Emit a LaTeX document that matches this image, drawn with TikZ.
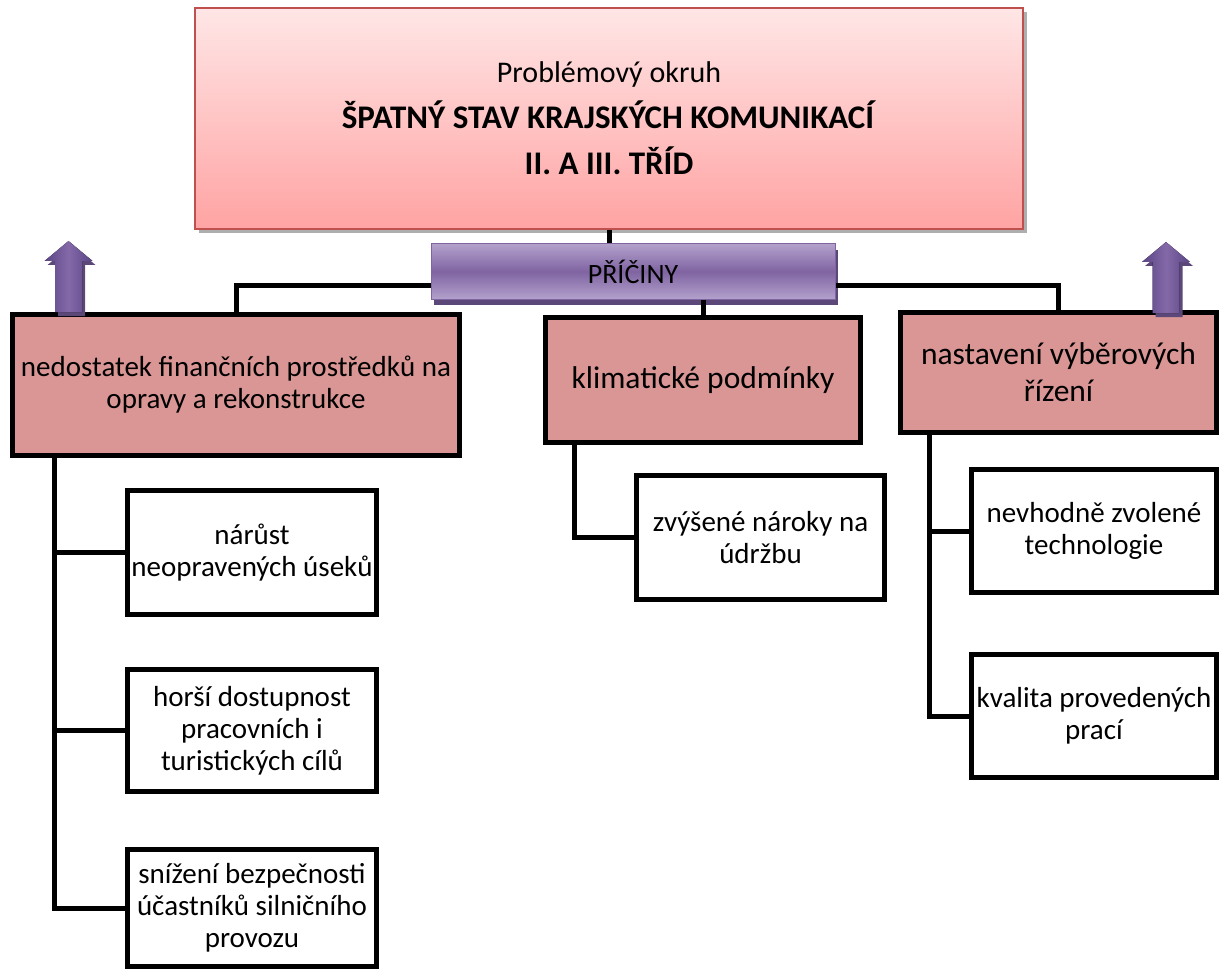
\documentclass[tikz,border=0pt]{standalone}
\usepackage{fontspec}
\setmainfont{Carlito}
\usepackage{tikz}
\usetikzlibrary{shadows}
\definecolor{causefill}{HTML}{D99694}
\definecolor{topline}{HTML}{C0504D}
\definecolor{toplight}{HTML}{FFE6E6}
\definecolor{topdark}{HTML}{FFA3A3}
\definecolor{prilight}{HTML}{B2A1CB}
\definecolor{primid}{HTML}{8064A2}
\definecolor{prishadow}{HTML}{5C4878}
\definecolor{arrowdark}{HTML}{5A4585}
\definecolor{arrowlight}{HTML}{8469A8}
\newcommand{\bigbold}[1]{\textbf{\fontsize{33}{46}\selectfont #1}}

\begin{document}
\begin{tikzpicture}[
    x=1pt, y=-1pt,
    topbox/.style={rectangle, draw=topline, line width=1.5pt,
                   top color=toplight, bottom color=topdark,
                   align=center, inner sep=0pt,
                   minimum width=828pt, minimum height=221pt,
                   font=\fontsize{30}{46}\selectfont,
                   drop shadow={shadow xshift=4pt, shadow yshift=-4pt,
                                fill=black!45, opacity=0.7}},
    pribox/.style={rectangle, draw=primid, line width=1pt,
                   top color=prilight, bottom color=prilight, middle color=primid,
                   inner sep=0pt, minimum width=404pt, minimum height=55pt,
                   font=\fontsize{28}{32}\selectfont,
                   drop shadow={shadow xshift=3pt, shadow yshift=-6pt,
                                fill=prishadow, opacity=1}},
    cause/.style={rectangle, draw=black, line width=5pt, fill=causefill,
                  align=center, inner sep=0pt,
                  font=\fontsize{31.5}{37}\selectfont},
    effect/.style={rectangle, draw=black, line width=5pt, fill=white,
                   align=center, inner sep=0pt, minimum width=249pt,
                   font=\fontsize{29}{32}\selectfont},
    link/.style={line width=5pt, draw=black},
    uparrow/.style={left color=arrowdark, right color=arrowdark, middle color=arrowlight},
    arrowshadow/.style={fill=prishadow},
  ]
  \useasboundingbox (0,0) rectangle (1220,976);

  \node[topbox] (problem) at (609,118.5)
    {Problémový okruh\\ \bigbold{ŠPATNÝ STAV KRAJSKÝCH KOMUNIKACÍ}\\ \bigbold{II. A III. TŘÍD}};
  \node[pribox] (causes) at (633,271.5) {PŘÍČINY};

  % causes
  \node[cause, minimum width=447pt, minimum height=141pt,
        font=\fontsize{29}{32}\selectfont] (money) at (236,385)
    {nedostatek finančních prostředků na\\ opravy a rekonstrukce};
  \node[cause, minimum width=315pt, minimum height=125pt] (climate) at (703,380)
    {klimatické podmínky};
  \node[cause, minimum width=316pt, minimum height=120pt] (tender) at (1058.5,372.5)
    {nastavení výběrových\\ řízení};

  % effects
  \node[effect, minimum height=124pt] (roads) at (252,552.5) {nárůst\\ neopravených úseků};
  \node[effect, minimum height=122pt] (access) at (252,730.5)
    {horší dostupnost\\ pracovních i\\ turistických cílů};
  \node[effect, minimum height=117pt] (safety) at (252,908)
    {snížení bezpečnosti\\ účastníků silničního\\ provozu};
  \node[effect, minimum width=248pt, minimum height=124pt] (upkeep) at (760.5,537.5)
    {zvýšené nároky na\\ údržbu};
  \node[effect, minimum width=245pt, minimum height=123pt] (tech) at (1094,531)
    {nevhodně zvolené\\ technologie};
  \node[effect, minimum width=245pt, minimum height=123pt] (quality) at (1094,716)
    {kvalita provedených\\ prací};

  \draw[link] (problem.south) -- (problem.south |- causes.north);
  \draw[link] ([yshift=-13.5pt]causes.west) -| (money.north);
  \draw[link] ([yshift=-13.5pt]causes.east) -| (tender.north);
  \draw[link] (climate.north |- causes.south) -- (climate.north);

  \coordinate (spineL) at ([xshift=44.5pt]money.south west);
  \draw[link] (spineL) |- (safety.west);
  \draw[link] (spineL |- roads.west) -- (roads.west);
  \draw[link] (spineL |- access.west) -- (access.west);

  \draw[link] ([xshift=31.5pt]climate.south west) |- (upkeep.west);

  \coordinate (spineR) at ([xshift=31.5pt]tender.south west);
  \draw[link] (spineR) |- (quality.west);
  \draw[link] (spineR |- tech.west) -- (tech.west);

  \foreach \ax/\ay in {68.5/312, 1166/313}{
    \fill[arrowshadow, shift={(\ax+3,\ay+4)}] (-13.5,0) -- (-13.5,-51) -- (-24,-51)
      -- (0,-71) -- (24,-51) -- (13.5,-51) -- (13.5,0) -- cycle;
    \fill[uparrow, shift={(\ax,\ay)}] (-13.5,0) -- (-13.5,-51) -- (-24,-51)
      -- (0,-71) -- (24,-51) -- (13.5,-51) -- (13.5,0) -- cycle;
  }
\end{tikzpicture}
\end{document}
